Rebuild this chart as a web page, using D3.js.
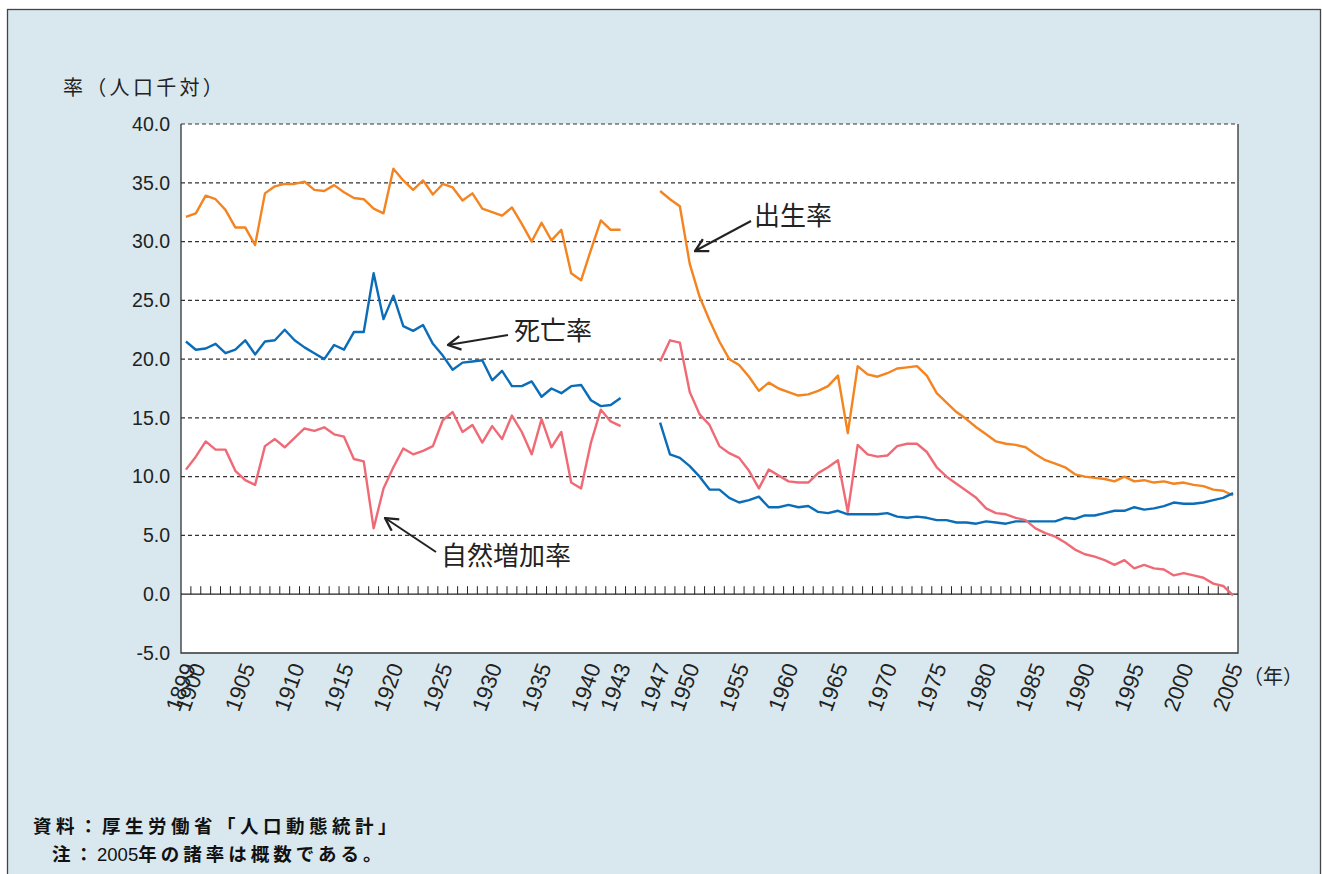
<!DOCTYPE html>
<html>
<head>
<meta charset="utf-8">
<script src="https://cdn.jsdelivr.net/npm/d3@7"></script>
<style>
  body { margin: 0; background: #fff; }
  svg text { font-family: "Liberation Sans", Arial, "Noto Sans CJK JP", sans-serif; }
  .jp { font-family: "Noto Sans CJK JP", sans-serif; }
</style>
</head>
<body>
<script>
// years 1899-2005, 1944-1946 have no data
var years = d3.range(1899, 2006);

// 出生率 1899-1943, 1947-2005
var birthPre = [32.1, 32.4, 33.9, 33.6, 32.7, 31.2, 31.2, 29.7, 34.1, 34.7,
  34.9, 34.9, 35.1, 34.4, 34.3, 34.8, 34.2, 33.7, 33.6, 32.8,
  32.4, 36.2, 35.2, 34.4, 35.2, 34.0, 34.9, 34.6, 33.5, 34.1,
  32.8, 32.5, 32.2, 32.9, 31.5, 30.0, 31.6, 30.1, 31.0, 27.3,
  26.7, 29.3, 31.8, 31.0, 31.0];
var birthPost = [34.3, 33.6, 33.0, 28.1, 25.3, 23.3, 21.5, 20.0, 19.5, 18.5,
  17.3, 18.0, 17.5, 17.2, 16.9, 17.0, 17.3, 17.7, 18.6, 13.7,
  19.4, 18.7, 18.5, 18.8, 19.2, 19.3, 19.4, 18.6, 17.1, 16.3,
  15.5, 14.9, 14.2, 13.6, 13.0, 12.8, 12.7, 12.5, 11.9, 11.4,
  11.1, 10.8, 10.2, 10.0, 9.9, 9.8, 9.6, 10.0, 9.6, 9.7,
  9.5, 9.6, 9.4, 9.5, 9.3, 9.2, 8.9, 8.8, 8.4];

// 死亡率
var deathPre = [21.5, 20.8, 20.9, 21.3, 20.5, 20.8, 21.6, 20.4, 21.5, 21.6,
  22.5, 21.6, 21.0, 20.5, 20.0, 21.2, 20.8, 22.3, 22.3, 27.3,
  23.4, 25.4, 22.8, 22.4, 22.9, 21.3, 20.3, 19.1, 19.7, 19.8,
  19.9, 18.2, 19.0, 17.7, 17.7, 18.1, 16.8, 17.5, 17.1, 17.7,
  17.8, 16.5, 16.0, 16.1, 16.7];
var deathPost = [14.6, 11.9, 11.6, 10.9, 10.0, 8.9, 8.9, 8.2, 7.8, 8.0,
  8.3, 7.4, 7.4, 7.6, 7.4, 7.5, 7.0, 6.9, 7.1, 6.8,
  6.8, 6.8, 6.8, 6.9, 6.6, 6.5, 6.6, 6.5, 6.3, 6.3,
  6.1, 6.1, 6.0, 6.2, 6.1, 6.0, 6.2, 6.2, 6.2, 6.2,
  6.2, 6.5, 6.4, 6.7, 6.7, 6.9, 7.1, 7.1, 7.4, 7.2,
  7.3, 7.5, 7.8, 7.7, 7.7, 7.8, 8.0, 8.2, 8.6];

// 自然増加率
var natPre = [10.6, 11.7, 13.0, 12.3, 12.3, 10.5, 9.7, 9.3, 12.6, 13.2,
  12.5, 13.3, 14.1, 13.9, 14.2, 13.6, 13.4, 11.5, 11.3, 5.6,
  9.0, 10.8, 12.4, 11.9, 12.2, 12.6, 14.8, 15.5, 13.8, 14.4,
  12.9, 14.3, 13.2, 15.2, 13.8, 11.9, 14.9, 12.5, 13.8, 9.5,
  9.0, 12.9, 15.7, 14.7, 14.3];
var natPost = [19.8, 21.6, 21.4, 17.2, 15.3, 14.4, 12.6, 12.0, 11.6, 10.5,
  9.0, 10.6, 10.1, 9.6, 9.5, 9.5, 10.3, 10.8, 11.4, 7.0,
  12.7, 11.9, 11.7, 11.8, 12.6, 12.8, 12.8, 12.1, 10.8, 10.0,
  9.4, 8.8, 8.2, 7.3, 6.9, 6.8, 6.5, 6.3, 5.6, 5.2,
  4.9, 4.4, 3.8, 3.4, 3.2, 2.9, 2.5, 2.9, 2.2, 2.5,
  2.2, 2.1, 1.6, 1.8, 1.6, 1.4, 0.9, 0.7, -0.1];

var tickYears = [1899, 1900, 1905, 1910, 1915, 1920, 1925, 1930, 1935, 1940, 1943,
  1947, 1950, 1955, 1960, 1965, 1970, 1975, 1980, 1985, 1990, 1995, 2000, 2005];
var yTicks = d3.range(-5, 40.1, 5);

var series = [
  {name: "出生率", pre: birthPre, post: birthPost, color: "#f4841f"},
  {name: "死亡率", pre: deathPre, post: deathPost, color: "#0b6db7"},
  {name: "自然増加率", pre: natPre, post: natPost, color: "#f06a76"}
];

function toPoints(pre, post) {
  var pts = [];
  pre.forEach(function(v, i) { pts.push({year: 1899 + i, v: v}); });
  [1944, 1945, 1946].forEach(function(y) { pts.push({year: y, v: null}); });
  post.forEach(function(v, i) { pts.push({year: 1947 + i, v: v}); });
  return pts;
}

var W = 1322, H = 874;
var margin = {top: 124, left: 181, right: 84, bottom: 221};
var width = W - margin.left - margin.right,
    height = H - margin.top - margin.bottom;

var svg = d3.select("body").append("svg")
    .attr("width", W).attr("height", H);

// background panel
svg.append("rect").attr("x", 7.5).attr("y", 9.5)
    .attr("width", 1313).attr("height", 880)
    .attr("fill", "#d9e8ee").attr("stroke", "#444").attr("stroke-width", 1.3);

var g = svg.append("g")
    .attr("transform", "translate(" + margin.left + "," + margin.top + ")");

var x = d3.scaleBand().domain(years).range([0, width]);
var y = d3.scaleLinear().domain([-5, 40]).range([height, 0]);
var cx = function(yr) { return x(yr) + x.bandwidth() / 2; };

g.append("rect").attr("width", width).attr("height", height).attr("fill", "#fff");

// dashed grid
g.selectAll(".grid").data(yTicks.filter(function(t) { return t > 0; }))
  .enter().append("line")
    .attr("x1", 0).attr("x2", width)
    .attr("y1", function(d) { return y(d); }).attr("y2", function(d) { return y(d); })
    .attr("stroke", "#333").attr("stroke-width", 1.2)
    .attr("stroke-dasharray", "4,3");

// frame: left, right, bottom
g.append("path")
    .attr("d", "M0,0V" + height + "H" + width + "V0")
    .attr("fill", "none").attr("stroke", "#333").attr("stroke-width", 1.3);

// zero line with small category ticks
g.append("line").attr("x1", 0).attr("x2", width)
    .attr("y1", y(0)).attr("y2", y(0))
    .attr("stroke", "#222").attr("stroke-width", 1.3);
g.selectAll(".ctick").data(years.slice(1))
  .enter().append("line")
    .attr("x1", function(d) { return x(d); }).attr("x2", function(d) { return x(d); })
    .attr("y1", y(0)).attr("y2", y(0) - 8)
    .attr("stroke", "#222").attr("stroke-width", 1);

// y labels
g.selectAll(".ylab").data(yTicks).enter().append("text")
    .attr("x", -11).attr("y", function(d) { return y(d); })
    .attr("dy", "0.35em").attr("text-anchor", "end")
    .attr("font-size", 19.5).attr("fill", "#222")
    .text(function(d) { return d.toFixed(1); });

// x labels
g.selectAll(".xlab").data(tickYears).enter().append("text")
    .attr("transform", function(d) {
      return "translate(" + (cx(d) + 3) + "," + (height + 11) + ") rotate(-70)";
    })
    .attr("text-anchor", "end").attr("dy", "0.35em")
    .attr("font-size", 22).attr("fill", "#222")
    .text(function(d) { return d; });

svg.append("text").attr("class", "jp")
    .attr("x", 1243).attr("y", 684)
    .attr("font-size", 20).attr("fill", "#222")
    .text("（年）");
svg.append("text").attr("class", "jp")
    .attr("x", 63).attr("y", 95)
    .attr("font-size", 20).attr("letter-spacing", 3.3).attr("fill", "#222")
    .text("率（人口千対）");

// lines
var line = d3.line()
    .defined(function(d) { return d.v !== null; })
    .x(function(d) { return cx(d.year); })
    .y(function(d) { return y(d.v); });

series.forEach(function(s) {
  g.append("path")
      .datum(toPoints(s.pre, s.post))
      .attr("fill", "none").attr("stroke", s.color)
      .attr("stroke-width", 2.4).attr("stroke-linejoin", "round")
      .attr("d", line);
});

// annotations
svg.append("defs").append("marker")
    .attr("id", "arr").attr("viewBox", "0 0 14 14")
    .attr("refX", 13).attr("refY", 7)
    .attr("markerWidth", 16).attr("markerHeight", 16)
    .attr("markerUnits", "userSpaceOnUse").attr("orient", "auto")
  .append("path").attr("d", "M2,1L13,7L2,13")
    .attr("fill", "none").attr("stroke", "#222").attr("stroke-width", 2)
    .attr("stroke-linejoin", "miter");

var notes = [
  {text: "出生率", tx: 754, ty: 225, x1: 751, y1: 221, x2: 695, y2: 251},
  {text: "死亡率", tx: 514, ty: 340, x1: 508, y1: 335, x2: 448, y2: 345},
  {text: "自然増加率", tx: 441, ty: 565, x1: 436, y1: 552, x2: 385, y2: 518}
];
notes.forEach(function(n) {
  svg.append("line")
      .attr("x1", n.x1).attr("y1", n.y1).attr("x2", n.x2).attr("y2", n.y2)
      .attr("stroke", "#222").attr("stroke-width", 2)
      .attr("marker-end", "url(#arr)");
  svg.append("text").attr("class", "jp")
      .attr("x", n.tx).attr("y", n.ty)
      .attr("font-size", 26).attr("fill", "#222")
      .text(n.text);
});

// source notes
svg.append("text").attr("class", "jp")
    .attr("x", 33).attr("y", 833).attr("font-size", 18.5)
    .attr("letter-spacing", 4.5).attr("font-weight", "bold").attr("fill", "#111")
    .text("資料：厚生労働省「人口動態統計」");
var note = svg.append("text").attr("class", "jp")
    .attr("x", 52).attr("y", 861).attr("font-size", 18.5)
    .attr("letter-spacing", 4).attr("font-weight", "bold").attr("fill", "#111");
note.append("tspan").text("注：");
note.append("tspan").attr("font-weight", "normal").attr("letter-spacing", 0)
    .attr("font-family", "Liberation Sans Narrow, Liberation Sans, sans-serif")
    .text("2005");
note.append("tspan").text("年の諸率は概数である。");
</script>
</body>
</html>
